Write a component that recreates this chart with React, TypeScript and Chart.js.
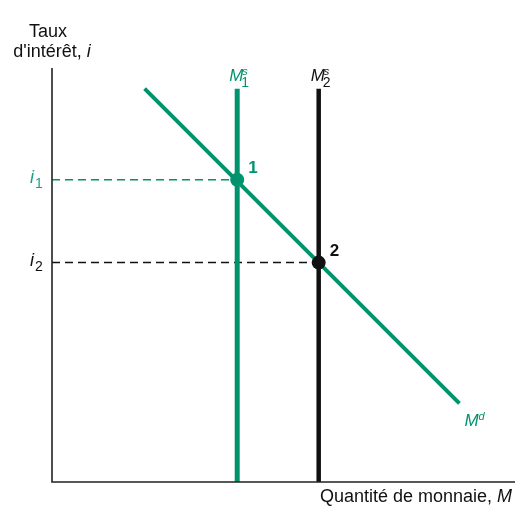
import React, { useEffect, useRef } from "react";
import { Chart, registerables } from "chart.js";

Chart.register(...registerables);

// Data (in abstract units: x = quantity of money 0..100, y = interest rate 0..100)
const demandX = [20, 88];
const demandY = [95, 19];
const supplyX = [40, 57.6]; // Ms1, Ms2
const supplyTop = 95;
const eqRates = [73, 53]; // i1, i2
const supplyLabels = ["1", "2"];
const axisMax = 100;

const GREEN = "#00936E";
const TEAL = "#1a9e8c";
const BLACK = "#111111";
const FONT = "'Liberation Sans', Arial, sans-serif";

type Part = { t: string; style?: string; size: number; dy?: number; dx?: number };

function drawRich(ctx: CanvasRenderingContext2D, parts: Part[], x: number, y: number, align: "left" | "center" | "right", color: string) {
  ctx.save();
  ctx.fillStyle = color;
  ctx.textBaseline = "alphabetic";
  ctx.textAlign = "left";
  let w = 0;
  const widths = parts.map((p) => {
    ctx.font = `${p.style || ""} ${p.size}px ${FONT}`;
    const m = ctx.measureText(p.t).width + (p.dx || 0);
    w += m;
    return m;
  });
  let cx = align === "left" ? x : align === "center" ? x - w / 2 : x - w;
  parts.forEach((p, i) => {
    ctx.font = `${p.style || ""} ${p.size}px ${FONT}`;
    ctx.fillText(p.t, cx + (p.dx || 0), y + (p.dy || 0));
    cx += widths[i];
  });
  ctx.restore();
}

const labelsPlugin = {
  id: "labelsPlugin",
  afterDraw(chart: any) {
    const ctx = chart.ctx as CanvasRenderingContext2D;
    const xs = chart.scales.x;
    const ys = chart.scales.y;
    const px = (v: number) => xs.getPixelForValue(v);
    const py = (v: number) => ys.getPixelForValue(v);

    // Y axis title
    drawRich(ctx, [{ t: "Taux", size: 18 }], 48, 37, "center", BLACK);
    drawRich(ctx, [{ t: "d'intérêt, ", size: 18 }, { t: "i", style: "italic", size: 18 }], 52, 57, "center", BLACK);

    // X axis title
    drawRich(ctx, [{ t: "Quantité de monnaie, ", size: 18 }, { t: "M", style: "italic", size: 18 }], px(axisMax) - 3, py(0) + 20, "right", BLACK);

    // Supply labels
    [GREEN, BLACK].forEach((c, k) => {
      const x0 = px(supplyX[k]) - 8;
      const yb = py(supplyTop) - 8;
      drawRich(ctx, [{ t: "M", style: "italic", size: 17 }], x0, yb, "left", c);
      ctx.save();
      ctx.font = `italic 17px ${FONT}`;
      const mw = ctx.measureText("M").width;
      ctx.restore();
      drawRich(ctx, [{ t: "s", style: "italic", size: 11 }], x0 + mw - 1, yb - 6, "left", c);
      drawRich(ctx, [{ t: String(k + 1), size: 14 }], x0 + mw - 2, yb + 6, "left", c);
    });

    // Demand label
    drawRich(ctx, [{ t: "M", style: "italic", size: 17 }, { t: "d", style: "italic", size: 11, dy: -6, dx: 0 }], px(demandX[1]) + 5, py(demandY[1]) + 23, "left", GREEN);

    // Equilibrium labels
    [GREEN, BLACK].forEach((c, k) => {
      drawRich(ctx, [{ t: supplyLabels[k], style: "bold", size: 17 }], px(supplyX[k]) + 11, py(eqRates[k]) - 7, "left", c);
      drawRich(ctx, [{ t: "i", style: "italic", size: 18 }, { t: String(k + 1), size: 14, dy: 5, dx: 1 }], 30, py(eqRates[k]) + 3, "left", k === 0 ? TEAL : BLACK);
    });
  },
};

export default function App() {
  const ref = useRef<HTMLCanvasElement | null>(null);
  useEffect(() => {
    if (!ref.current) return;
    const chart = new Chart(ref.current, {
      type: "line",
      data: {
        datasets: [
          // equilibrium points (first = drawn on top)
          { data: [{ x: supplyX[0], y: eqRates[0] }], showLine: false, pointRadius: 7, pointBackgroundColor: GREEN, pointBorderWidth: 0, clip: false } as any,
          { data: [{ x: supplyX[1], y: eqRates[1] }], showLine: false, pointRadius: 7, pointBackgroundColor: BLACK, pointBorderWidth: 0, clip: false } as any,
          // axes
          { data: [{ x: 0, y: axisMax }, { x: 0, y: 0 }, { x: axisMax, y: 0 }], borderColor: "#222", borderWidth: 1.6, pointRadius: 0, clip: false } as any,
          // demand
          { data: [{ x: demandX[0], y: demandY[0] }, { x: demandX[1], y: demandY[1] }], borderColor: GREEN, borderWidth: 4, pointRadius: 0 },
          // supply curves
          { data: [{ x: supplyX[0], y: 0 }, { x: supplyX[0], y: supplyTop }], borderColor: GREEN, borderWidth: 5, pointRadius: 0, borderCapStyle: "butt" },
          { data: [{ x: supplyX[1], y: 0 }, { x: supplyX[1], y: supplyTop }], borderColor: BLACK, borderWidth: 4.5, pointRadius: 0, borderCapStyle: "butt" },
          // dashed guides
          { data: [{ x: 0, y: eqRates[0] }, { x: supplyX[0], y: eqRates[0] }], borderColor: GREEN, borderWidth: 1.5, borderDash: [8, 5], pointRadius: 0 },
          { data: [{ x: 0, y: eqRates[1] }, { x: supplyX[1], y: eqRates[1] }], borderColor: BLACK, borderWidth: 1.5, borderDash: [8, 5], pointRadius: 0 },
        ],
      },
      options: {
        animation: false,
        responsive: false,
        layout: { padding: { left: 52, top: 68, right: 5, bottom: 38 } },
        plugins: { legend: { display: false }, tooltip: { enabled: false } },
        elements: { line: { tension: 0 } },
        scales: {
          x: { type: "linear", min: 0, max: axisMax, display: false },
          y: { type: "linear", min: 0, max: axisMax, display: false },
        },
      },
      plugins: [labelsPlugin],
    });
    return () => chart.destroy();
  }, []);
  return (
    <div style={{ position: "fixed", left: 0, top: 0, width: 522, height: 520, background: "#fff" }}>
      <canvas ref={ref} width={522} height={520} style={{ display: "block" }} />
    </div>
  );
}
